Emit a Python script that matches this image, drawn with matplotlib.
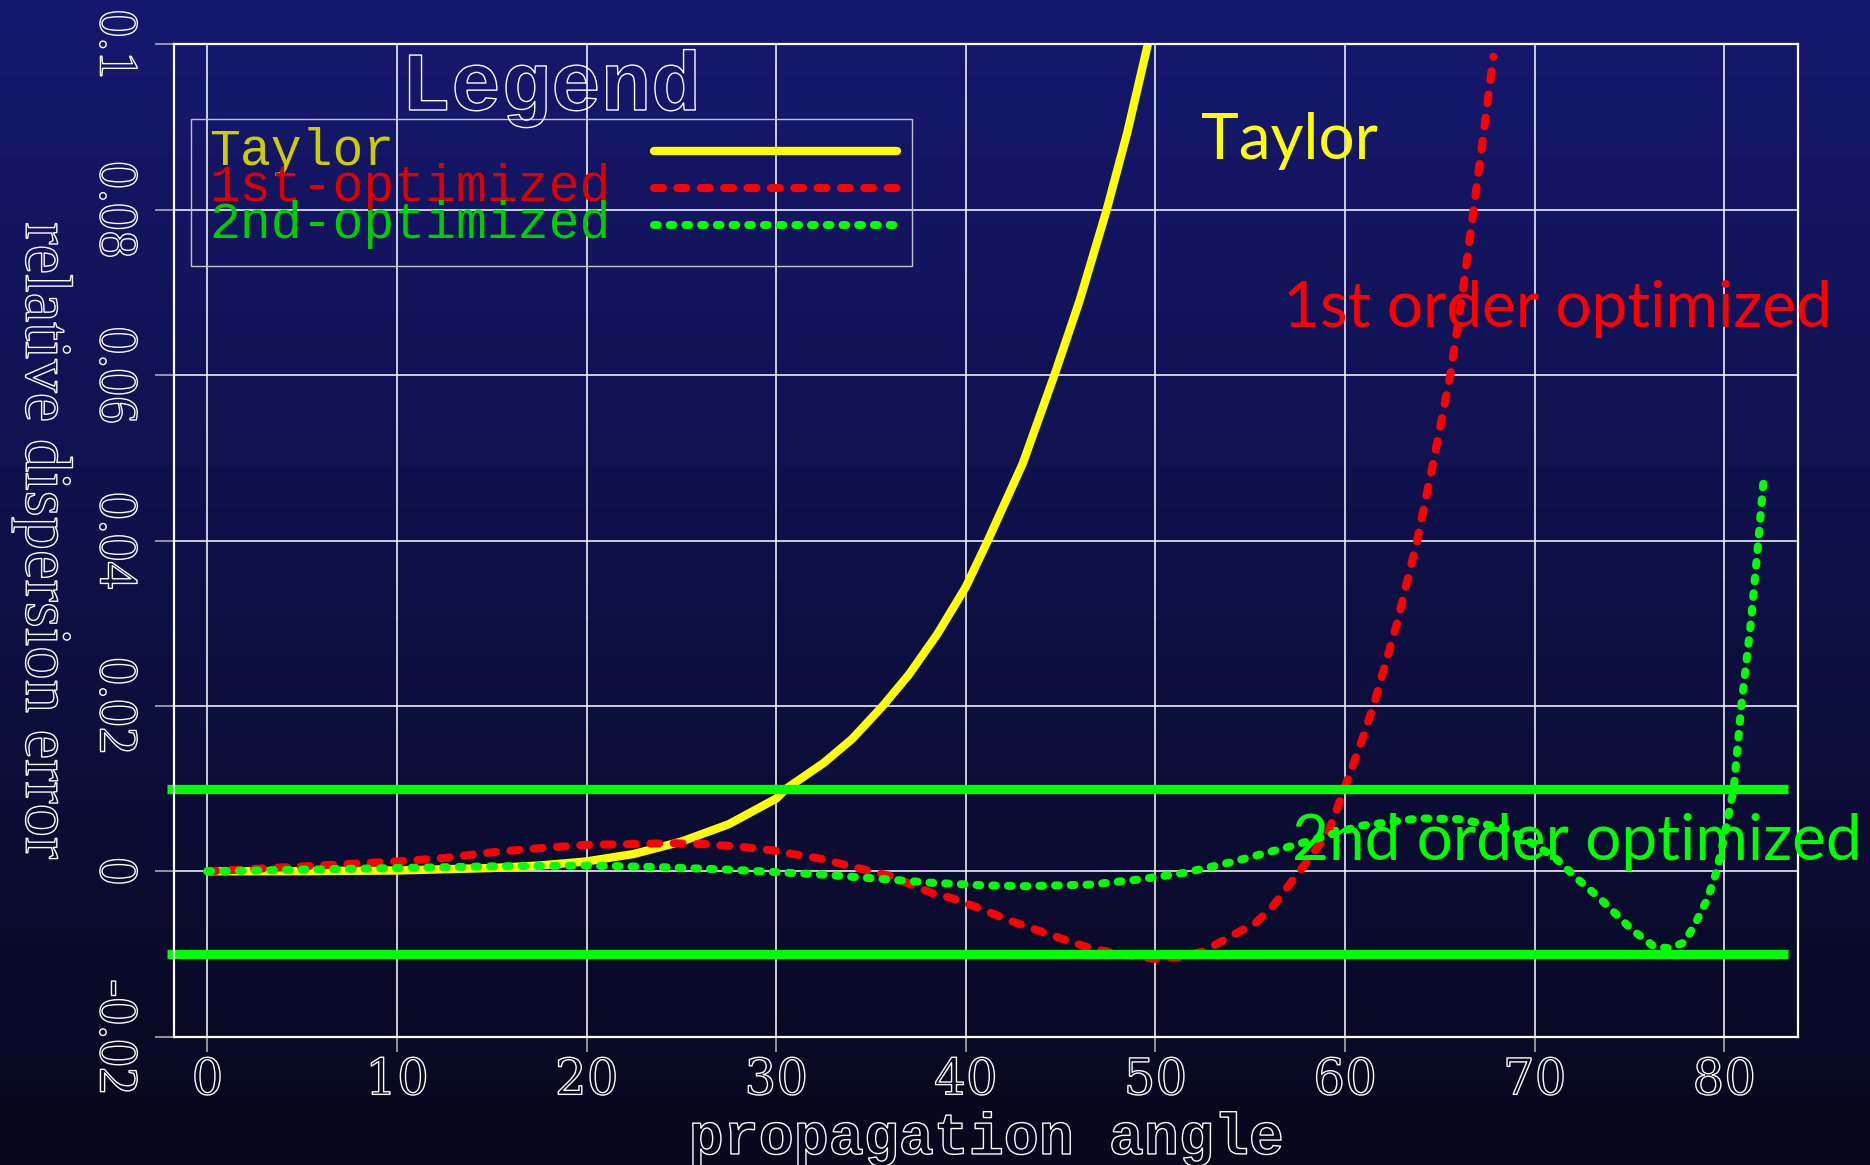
import numpy as np
import matplotlib
matplotlib.use('Agg')
from matplotlib import pyplot as plt
import matplotlib.patheffects as pe
from matplotlib.patches import Rectangle

# values
taylor_angle = [0, 5, 10, 15, 17.5, 20, 22.5, 25, 27.5, 30, 30.53, 32.5, 34, 35.62, 37, 38.5,
                40, 41.16, 43, 44.67, 46, 47.43, 48.5, 49.6, 50.5]
taylor_err = [0, 0.00002, 0.0001, 0.0004, 0.0007, 0.0012, 0.0021, 0.0036, 0.0057, 0.0088, 0.01,
              0.0131, 0.016, 0.02, 0.0238, 0.0287, 0.0344, 0.04, 0.0493, 0.06, 0.069, 0.08,
              0.0892, 0.1, 0.109]

first_angle = [0, 5, 10, 12.5, 15, 17.5, 20, 22.4, 24.4, 26.2, 28.4, 29.9, 31.1, 32.4, 33.6,
               34.8, 36.1, 37.2, 38.3, 39.2, 40.4, 42.6, 45, 46.3, 48, 50, 51.2, 52.5, 53.7,
               55.3, 56.2, 57.6, 59.1, 59.96, 60.76, 61.5, 62.74, 63.8, 64.7, 65.55, 66.2,
               66.78, 67.35, 67.82]
first_err = [0, 0.0006, 0.0012, 0.0016, 0.0023, 0.0028, 0.0032, 0.0033, 0.0034, 0.0033, 0.0029,
             0.0025, 0.002, 0.0015, 0.0008, 0.0001, -0.0006, -0.0017, -0.0027, -0.0032, -0.0042,
             -0.0062, -0.0081, -0.0091, -0.0100, -0.0106, -0.0104, -0.0097, -0.0082, -0.0062,
             -0.0042, 0.0, 0.0046, 0.01, 0.015, 0.02, 0.03, 0.04, 0.05, 0.06, 0.07, 0.08, 0.09,
             0.0985]

second_angle = [0, 5, 10, 15, 20, 24, 27.5, 30, 32.5, 34.8, 38.3, 41, 43.2, 46.6, 49.1, 51.5,
                54, 57.1, 60.8, 63.9, 66.1, 68.6, 71, 72.3, 73.5, 75.1, 76.3, 77.1, 77.9,
                78.5, 79.1, 79.6, 80, 80.5, 80.9, 81.4, 81.8, 82.1]
second_err = [0, 0.0002, 0.0004, 0.0006, 0.0007, 0.0005, 0.0002, -0.0001, -0.0004, -0.0008,
              -0.0014, -0.0017, -0.0018, -0.0016, -0.001, -0.0002, 0.0011, 0.003, 0.0055,
              0.0064, 0.0063, 0.0051, 0.0018, -0.001, -0.0034, -0.007, -0.0091, -0.0093,
              -0.0086, -0.0062, -0.0034, 0.0, 0.0042, 0.01, 0.02, 0.03, 0.04, 0.048]

band_levels = [0.01, -0.01]
band_span = [-2.15, 83.37]

x_ticks = [0, 10, 20, 30, 40, 50, 60, 70, 80]
y_ticks = [-0.02, 0, 0.02, 0.04, 0.06, 0.08, 0.1]
y_tick_labels = ['-0.02', '0', '0.02', '0.04', '0.06', '0.08', '0.1']

legend_labels = ['Taylor', '1st-optimized', '2nd-optimized']
legend_text_colors = ['#cccc00', '#dd0000', '#00cc00']

styles = [
    dict(color='#ffff00', lw=6.0, solid_capstyle='round'),
    dict(color='#ff0000', lw=5.8, dashes=(1.1, 1.8), dash_capstyle='round'),
    dict(color='#00ff00', lw=5.8, dashes=(0.45, 1.5), dash_capstyle='round'),
]

outline = [pe.Stroke(linewidth=1.0, foreground='white')]
clear = (0, 0, 0, 0)

#%%
fig = plt.figure(figsize=(18.7, 11.65), dpi=100)
fig.patch.set_facecolor('#07081c')

# background gradient, dark navy at the top fading to near black
bg = fig.add_axes([0, 0, 1, 1], zorder=-10)
top = np.array([22, 24, 112]) / 255
bottom = np.array([7, 8, 28]) / 255
t = np.linspace(0, 1, 256)[:, None]
grad = (top * (1 - t) + bottom * t)[:, None, :]
bg.imshow(grad, aspect='auto', extent=[0, 1, 0, 1], interpolation='bilinear')
bg.axis('off')

ax = fig.add_axes([0.0933, 0.1101, 0.8682, 0.8519])
ax.set_facecolor('none')

ax.plot(taylor_angle, taylor_err, **styles[0])
ax.plot(first_angle, first_err, **styles[1])
ax.plot(second_angle, second_err, **styles[2])
for level in band_levels:
    ax.plot(band_span, [level, level], color='#00ff00', lw=6.7,
            solid_capstyle='butt', clip_on=False)

ax.set_xlim(-1.74, 83.89)
ax.set_ylim(-0.02, 0.1)
ax.set_xticks(x_ticks)
ax.set_yticks(y_ticks)
ax.set_yticklabels(y_tick_labels)
ax.grid(True, color='white', lw=1.1)
ax.set_axisbelow(True)
for s in ax.spines.values():
    s.set_color('white')
    s.set_linewidth(1.6)

ax.tick_params(axis='x', length=10.8, width=1.1, color='#b8b8b8', pad=3,
               labelsize=36, labelcolor=clear)
ax.tick_params(axis='y', length=13.5, width=1.1, color='#b8b8b8', pad=11,
               labelsize=40, labelcolor=clear, labelrotation=-90)
for lab in ax.get_xticklabels():
    lab.set_fontfamily('DejaVu Serif')
    lab.set_path_effects(outline)
for lab in ax.get_yticklabels():
    lab.set_fontfamily('Liberation Serif')
    lab.set_va('center')
    lab.set_path_effects(outline)

ax.set_xlabel('propagation angle', fontsize=42, family='Liberation Mono', weight='bold',
              color=clear, va='center', path_effects=outline)
ax.xaxis.set_label_coords(0.5, -0.103)
ax.set_ylabel('relative dispersion error', fontsize=48, family='Liberation Serif',
              color=clear, rotation=-90, va='center', ha='center', path_effects=outline)
ax.yaxis.set_label_coords(-0.081, 0.5)

# legend box drawn by hand: title sits above the frame, handles right of the text
ax.add_patch(Rectangle((0.0102, 0.7766), 0.444, 0.1481, transform=ax.transAxes,
                       fill=False, edgecolor='#c0c0d0', lw=1.0, clip_on=False))
ax.text(0.2319, 0.9338, 'Legend', transform=ax.transAxes, ha='center', va='baseline',
        fontsize=60, family='Liberation Mono', weight='bold', color=clear,
        path_effects=outline)
rows = [0.892, 0.8552, 0.8184]
for label, tcol, st, ry in zip(legend_labels, legend_text_colors, styles, rows):
    ax.text(0.02125, ry, label, transform=ax.transAxes, ha='left', va='center',
            fontsize=37, family='Liberation Mono', color=tcol)
    ax.plot([0.2953, 0.445], [ry, ry], transform=ax.transAxes, clip_on=False, **st)

# curve annotations
ax.text(57.06, 0.0861, 'Taylor', color='#ffff00', fontsize=46, family='Lato',
        ha='center', va='baseline')
ax.text(71.2, 0.0658, '1st order optimized', color='#ff0000', fontsize=46, family='Lato',
        ha='center', va='baseline')
ax.text(72.2, 0.00134, '2nd order optimized', color='#00ff00', fontsize=46, family='Lato',
        ha='center', va='baseline', clip_on=False)

fig.savefig('out.png', dpi=100, facecolor=fig.get_facecolor())
